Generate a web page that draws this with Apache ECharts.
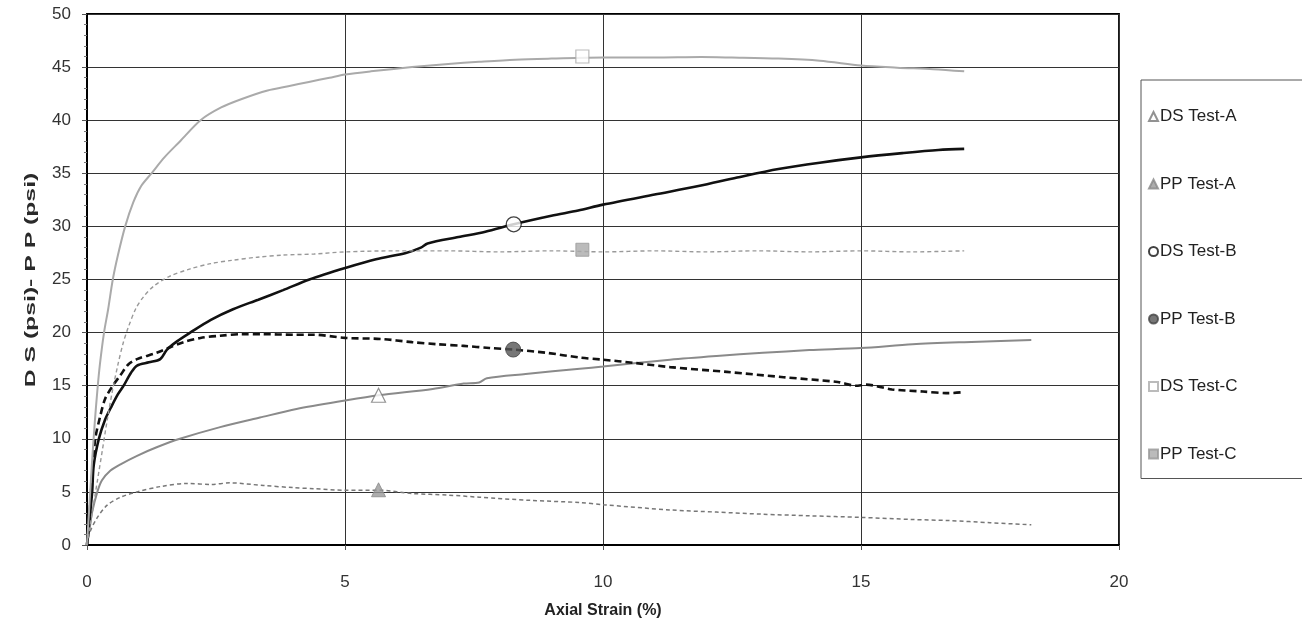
<!DOCTYPE html>
<html><head><meta charset="utf-8">
<script src="https://cdn.jsdelivr.net/npm/echarts@6/dist/echarts.min.js"></script>
<style>html,body{margin:0;padding:0;background:#fff}#c{width:1302px;height:624px}</style>
</head><body><div id="c"></div>
<script>
const seriesNames = ['DS Test-A','PP Test-A','DS Test-B','PP Test-B','DS Test-C','PP Test-C'];
const xAxisTitle = 'Axial Strain (%)';
const yAxisTitle = 'D S (psi)- P P (psi)';

const dsTestA = [[0,0],[0.05,1.5],[0.1,3.1],[0.2,5],[0.29,6.1],[0.45,7],[0.65,7.6],[0.97,8.4],[1.35,9.2],[1.8,10],[2.58,11.1],[3.35,12],[4.06,12.8],[5,13.6],[5.65,14.1],[6.7,14.7],[7.3,15.2],[7.6,15.3],[7.75,15.7],[8.5,16.1],[9.55,16.6],[10,16.8],[11.3,17.45],[12.2,17.8],[13.1,18.1],[14,18.35],[15,18.55],[16,18.9],[17,19.1],[18.3,19.3]];
const ppTestA = [[0,0],[0.06,1.25],[0.19,2.5],[0.39,3.75],[0.65,4.5],[0.97,5],[1.42,5.5],[1.94,5.8],[2.4,5.7],[2.77,5.85],[3.42,5.6],[4.0,5.4],[4.4,5.3],[5.0,5.15],[5.7,5.15],[6.3,4.85],[7.0,4.7],[7.6,4.5],[8.6,4.2],[9.55,4.0],[10,3.8],[11.3,3.3],[12.2,3.1],[13.1,2.9],[14,2.75],[15,2.6],[16,2.4],[16.7,2.3],[17.5,2.1],[18.3,1.9]];
const dsTestB = [[0,0],[0.05,2.5],[0.1,5],[0.13,7.5],[0.23,10],[0.35,11.8],[0.48,13.1],[0.6,14.2],[0.71,15],[0.85,16.2],[0.97,16.9],[1.2,17.2],[1.42,17.5],[1.55,18.4],[1.75,19.2],[2.0,20],[2.4,21.2],[2.83,22.2],[3.32,23.1],[3.8,24],[4.31,25],[5.02,26.1],[5.6,26.9],[6.18,27.5],[6.47,28],[6.6,28.4],[7.2,29],[7.72,29.5],[8.27,30.2],[9,31],[9.52,31.5],[10,32.05],[11,33],[11.85,33.8],[12.6,34.6],[13.4,35.4],[14.2,36],[15,36.5],[15.8,36.9],[16.5,37.2],[17,37.3]];
const ppTestB = [[0,0],[0.05,3],[0.1,6.5],[0.16,10],[0.25,12],[0.35,13.75],[0.5,15],[0.65,16],[0.8,17],[0.97,17.5],[1.35,18.1],[1.6,18.6],[1.87,19.1],[2.2,19.5],[2.58,19.7],[3.0,19.85],[3.4,19.85],[4.0,19.8],[4.4,19.8],[5.0,19.5],[5.7,19.4],[6.3,19.1],[6.8,18.9],[7.3,18.75],[7.8,18.55],[8.26,18.4],[8.9,18.1],[9.55,17.65],[10,17.45],[10.6,17.15],[11.3,16.75],[12.4,16.3],[13.5,15.8],[14.55,15.35],[14.9,15.0],[15.1,15.1],[15.6,14.65],[16.2,14.45],[16.7,14.3],[17,14.4]];
const dsTestC = [[0,0],[0.05,4],[0.1,8],[0.15,11.5],[0.2,14.5],[0.25,17],[0.33,20],[0.41,22.2],[0.5,25],[0.6,27.3],[0.74,30],[0.9,32.3],[1.05,33.8],[1.25,35],[1.5,36.5],[1.8,38],[2.2,40],[2.6,41.2],[3.0,42],[3.5,42.8],[3.9,43.2],[4.3,43.6],[4.7,44],[5,44.3],[5.5,44.6],[6.3,45],[7,45.3],[7.6,45.5],[8.3,45.7],[9,45.8],[10,45.9],[11,45.9],[11.9,45.95],[12.5,45.9],[13.4,45.8],[14.2,45.6],[15,45.15],[15.7,44.95],[16.4,44.8],[17,44.6]];
const ppTestC = [[0,0],[0.1,3],[0.2,6],[0.3,9],[0.4,12],[0.5,14.7],[0.6,17],[0.7,19],[0.8,20.5],[0.95,22.3],[1.1,23.4],[1.3,24.4],[1.6,25.3],[2.0,26],[2.4,26.5],[2.8,26.8],[3.3,27.1],[3.8,27.3],[4.4,27.4],[5,27.6],[6,27.7],[7,27.7],[8,27.6],[9,27.7],[10,27.6],[11,27.7],[12,27.6],[13,27.7],[14,27.6],[15,27.7],[16,27.6],[17,27.7]];

const markerX = [5.65, 5.65, 8.27, 8.26, 9.6, 9.6];
const markerY = [14.1, 5.2, 30.2, 18.4, 46.0, 27.8];

const lines = [dsTestA, ppTestA, dsTestB, ppTestB, dsTestC, ppTestC];
const lineStyles = [
  {color:'#8a8a8a', width:2, type:'solid'},
  {color:'#777', width:1.5, type:[4,3]},
  {color:'#111', width:2.6, type:'solid'},
  {color:'#111', width:2.6, type:[7,4]},
  {color:'#aaaaaa', width:2, type:'solid'},
  {color:'#999', width:1.4, type:[4,3]}
];
const markerSym = ['triangle','triangle','circle','circle','rect','rect'];
const markerSize = [14,14,15,15,13,13];
const markerStyle = [
  {color:'#fff', borderColor:'#777', borderWidth:1.2},
  {color:'#999', borderColor:'#888', borderWidth:1},
  {color:'#fff', borderColor:'#111', borderWidth:1.3},
  {color:'#555', borderColor:'#444', borderWidth:1},
  {color:'#fff', borderColor:'#aaa', borderWidth:1.2},
  {color:'#aaa', borderColor:'#999', borderWidth:1}
];

const series = [];
seriesNames.forEach((n,i)=>{
  series.push({name:n, type:'scatter', data:[[markerX[i], markerY[i]]], symbol:markerSym[i], symbolSize:markerSize[i], itemStyle:markerStyle[i], z:5});
});
seriesNames.forEach((n,i)=>{
  series.push({name:n, type:'line', data:lines[i], showSymbol:false, symbol:'none', smooth:0.3, lineStyle:lineStyles[i], z:3});
});

const FONT = '"Liberation Sans", Arial, sans-serif';
const chart = echarts.init(document.getElementById('c'));
chart.setOption({
  animation:false,
  textStyle:{fontFamily:FONT},
  grid:{left:87, right:183, top:14, bottom:79, show:true, borderColor:'#000', borderWidth:1.8},
  legend:{
    orient:'vertical', left:1141, top:80,
    data: seriesNames,
    itemWidth:9, itemHeight:9, itemGap:50.5,
    padding:[28, 200, 16, 7],
    borderColor:'#555', borderWidth:1,
    textStyle:{fontSize:17, color:'#222', fontFamily:FONT, padding:[0,0,0,-3]}
  },
  graphic:[{
    type:'text', x:31, y:280, rotation:Math.PI/2, scaleX:1.65,
    style:{text:yAxisTitle, font:'bold 15px ' + FONT, fill:'#2a2a2a', align:'center', verticalAlign:'middle'}
  }],
  xAxis:{
    type:'value', min:0, max:20, interval:5,
    name:xAxisTitle, nameLocation:'middle', nameGap:58,
    nameTextStyle:{fontSize:16, fontWeight:'bold', color:'#222'},
    axisLine:{show:true, lineStyle:{color:'#000', width:2}},
    axisTick:{show:true, length:5, lineStyle:{color:'#555'}},
    axisLabel:{fontSize:17, color:'#333', margin:29},
    splitLine:{show:true, lineStyle:{color:'#333', width:1}}
  },
  yAxis:{
    type:'value', min:0, max:50, interval:5,
    axisLine:{show:true, lineStyle:{color:'#000', width:2}},
    axisTick:{show:true, length:5, lineStyle:{color:'#555'}},
    minorTick:{show:true, splitNumber:5, length:3, lineStyle:{color:'#777'}},
    axisLabel:{fontSize:17, color:'#333', margin:16},
    splitLine:{show:true, lineStyle:{color:'#333', width:1}}
  },
  series: series
});
</script></body></html>
